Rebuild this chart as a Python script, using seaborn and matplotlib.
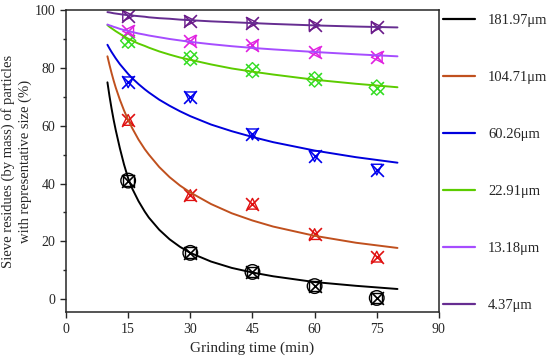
import numpy as np
import pandas as pd
import matplotlib
matplotlib.use("Agg")
import matplotlib.pyplot as plt
from matplotlib.ticker import MultipleLocator
import seaborn as sns

#size classes shown in the legend
sizes = ["181.97\u03bcm", "104.71\u03bcm", "60.26\u03bcm", "22.91\u03bcm", "13.18\u03bcm", "4.37\u03bcm"]

t_meas = [15, 30, 45, 60, 75]
res_18197 = [41, 16, 9.4, 4.5, 0.4]
res_10471 = [62, 36, 33, 22.5, 14.7]
res_6026 = [75, 69.8, 57, 49.4, 44.8]
res_2291 = [89.4, 83.3, 79.2, 76, 73.2]
res_1318 = [92.7, 89.4, 87.8, 85.4, 83.7]
res_437 = [98, 96.2, 95.5, 94.8, 94.1]

#fitted curves, values
t_fit = [10, 10.5, 11, 11.5, 12, 13, 14, 15, 16, 17.5, 19, 20, 22.5, 25, 27.5, 30, 35, 40, 45, 50, 60, 70, 80]
fit_18197 = [75, 70.2, 65.9, 62.0, 58.5, 52.2, 46.6, 41.8, 38.2, 33.9, 30.3, 28.2, 24.0, 20.7, 18.1, 16.0, 13.0, 10.8, 9.2, 7.9, 5.9, 4.6, 3.5]
fit_10471 = [84, 81.0, 78.2, 75.6, 73.2, 69.0, 65.3, 62.0, 59.1, 55.2, 51.9, 50.0, 45.7, 42.2, 39.3, 36.9, 32.9, 29.7, 27.2, 25.1, 21.9, 19.5, 17.7]
fit_6026 = [88, 86.7, 85.5, 84.4, 83.3, 81.3, 79.6, 77.9, 76.4, 74.4, 72.6, 71.5, 69.0, 66.9, 65.0, 63.3, 60.4, 58.1, 56.1, 54.3, 51.4, 49.1, 47.2]
fit_2291 = [94.8, 94.2, 93.7, 93.2, 92.7, 91.8, 90.9, 90.1, 89.4, 88.4, 87.6, 87.0, 85.7, 84.6, 83.6, 82.8, 81.2, 79.8, 78.7, 77.7, 75.9, 74.5, 73.3]
fit_1318 = [95, 94.7, 94.5, 94.2, 94.0, 93.5, 93.1, 92.8, 92.4, 91.9, 91.5, 91.2, 90.6, 90.0, 89.5, 89.0, 88.2, 87.5, 86.9, 86.4, 85.5, 84.7, 84.0]
fit_437 = [99.3, 99.2, 99.05, 98.9, 98.8, 98.6, 98.4, 98.2, 98.1, 97.9, 97.7, 97.5, 97.2, 97.0, 96.7, 96.5, 96.1, 95.8, 95.5, 95.2, 94.7, 94.3, 94.0]

meas = [res_18197, res_10471, res_6026, res_2291, res_1318, res_437]
fits = [fit_18197, fit_10471, fit_6026, fit_2291, fit_1318, fit_437]

line_cols = ["#000000", "#c0501e", "#0000dd", "#5ccc00", "#a64dff", "#662d91"]
mark_cols = ["#000000", "#e01010", "#0000ee", "#33dd22", "#e020e0", "#6a1a8a"]
shapes = ["s", "^", "v", "D", "<", ">"]

df_fit = pd.DataFrame({"t": np.tile(t_fit, len(sizes)),
                       "res": np.concatenate(fits),
                       "size": np.repeat(sizes, len(t_fit))})
df_meas = pd.DataFrame({"t": np.tile(t_meas, len(sizes)),
                        "res": np.concatenate(meas),
                        "size": np.repeat(sizes, len(t_meas))})

sns.set_style("ticks")
plt.rcParams['font.family'] = ['Liberation Serif', 'DejaVu Serif']

fig = plt.figure(figsize=(5.5, 3.6), dpi=100)
ax = fig.add_axes([0.12, 0.133, 0.678, 0.839])

sns.lineplot(data=df_fit, x="t", y="res", hue="size", palette=line_cols,
             linewidth=1.4, ax=ax)

#each measured point is drawn as an X over a hollow shape
for i, s in enumerate(sizes):
    d = df_meas[df_meas["size"] == s]
    sns.scatterplot(data=d, x="t", y="res", marker=shapes[i], s=60,
                    facecolor="none", edgecolor=mark_cols[i], linewidth=1.0,
                    ax=ax, legend=False)
    sns.scatterplot(data=d, x="t", y="res", marker="x", s=85,
                    color=mark_cols[i], linewidth=1.2, ax=ax, legend=False)
    if i == 0:
        sns.scatterplot(data=d, x="t", y="res", marker="o", s=110,
                        facecolor="none", edgecolor=mark_cols[i], linewidth=1.0,
                        ax=ax, legend=False)

ax.set_xlim(0, 90)
ax.set_ylim(-4.5, 100)
ax.xaxis.set_major_locator(MultipleLocator(15))
ax.yaxis.set_major_locator(MultipleLocator(20))
ax.yaxis.set_minor_locator(MultipleLocator(10))
ax.tick_params(axis="both", which="major", length=4, width=1, labelsize=10, direction="out")
ax.tick_params(axis="y", which="minor", length=2.5, width=1)
ax.tick_params(top=False, right=False)
for sp in ax.spines.values():
    sp.set_linewidth(1.1)
    sp.set_visible(True)

ax.set_xlabel("Grinding time (min)", fontsize=11)
ax.set_ylabel("Sieve residues (by mass) of particles\nwith representative size (%)", fontsize=10.5,
              linespacing=1.35, labelpad=2)

handles, labels = ax.get_legend_handles_labels()
for h in handles:
    h.set_linewidth(1.6)
ax.legend(handles, labels, loc="upper left", bbox_to_anchor=(1.005, 0.995), frameon=False,
          fontsize=10.5, labelspacing=3.0, handlelength=2.2, handletextpad=0.9,
          borderaxespad=0.0, borderpad=0.15)

fig.savefig("out.png", dpi=100)
